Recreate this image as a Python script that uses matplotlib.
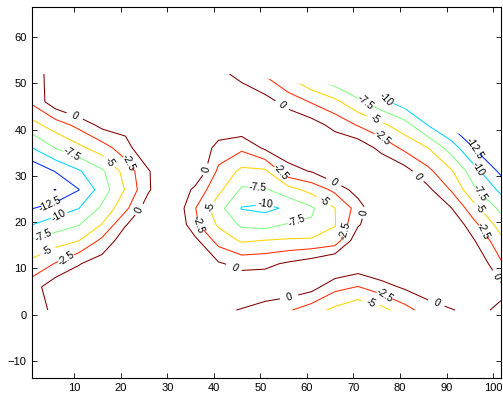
import numpy as np
import matplotlib
matplotlib.use("Agg")
import matplotlib.pyplot as plt
from matplotlib.patches import Polygon

# grid (x columns, y rows)
x_nodes = [1, 6, 11, 16, 21, 26, 31, 36, 41, 46, 51, 56, 61, 66, 71, 76, 81, 86, 91, 96, 101.7]
y_nodes = [1, 6, 11, 16, 19.5, 23, 27, 31, 36, 41, 46, 52]

row_y01 = [-0.4, 0.2, 1.0, 1.2, 1.2, 1.2, 1.2, 1.0, 0.5, -0.15, -1.2, -2.2, -3.9, -5.6, -7.0, -5.9, -3.5, -1.2, -0.1, 0.5, -0.35]
row_y06 = [-1.1, 1.65, 2.0, 2.0, 2.0, 2.0, 2.0, 2.0, 2.0, 2.0, 2.0, 1.8, 1.0, -1.7, -2.6, -1.0, 0.4, 1.5, 1.5, 1.2, 0.5]
row_y11 = [-4.3, -2.33, -0.15, 1.3, 2.0, 2.0, 2.0, 2.0, 0.3, -0.8, -0.6, 0.4, 1.4, 3.0, 1.9, 2.6, 2.5, 2.5, 2.5, 2.4, -2.15]
row_y16 = [-7.2, -6.1, -5.05, -1.9, 1.6, 2.5, 2.5, 0.65, -3.45, -5.3, -4.9, -4.7, -4.6, -4.0, 1.9, 2.5, 2.5, 2.5, 2.0, 0.1, -4.34]
row_y19 = [-10.05, -8.8, -7.66, -4.9, -0.2, 2.3, 3.3, -2.0, -5.37, -8.0, -8.4, -7.3, -7.2, -5.15, -0.3, 2.5, 2.5, 2.5, 2.4, -1.9, -6.16]
row_y23 = [-12.6, -11.3, -10.05, -7.03, -3.15, 1.6, 2.6, -2.4, -6.6, -10.15, -10.6, -9.6, -7.86, -5.05, -1.44, 3.3, 2.5, 2.5, 0.1, -4.2, -8.2]
row_y27 = [-14.6, -15.03, -12.57, -8.8, -4.83, -0.29, 3.0, -0.69, -4.36, -7.85, -7.8, -6.0, -4.13, -1.92, 1.3, 2.5, 2.5, 0.6, -2.71, -7.14, -10.6]
row_y31 = [-14.4, -12.37, -10.29, -7.9, -4.07, -0.2, 3.0, 2.5, -3.04, -5.6, -5.5, -0.8, 0.15, 2.9, 2.5, 2.5, 1.0, -1.87, -4.67, -9.11, -13.1]
row_y36 = [-10.05, -7.45, -5.66, -3.71, -1.07, 2.5, 2.5, 2.5, -1.0, -2.0, 0.4, 1.4, 2.0, 2.0, 1.75, -0.75, -3.08, -4.95, -8.64, -12.6, -14.0]
row_y41 = [-5.83, -3.79, -1.75, 0.8, 1.0, 2.0, 2.0, 2.0, 2.0, 2.0, 2.0, 2.0, 1.1, -0.81, -2.71, -4.44, -6.44, -10.1, -12.8, -14.0, -14.0]
row_y46 = [-2.0, 1.7, 3.5, 2.0, 2.0, 2.0, 2.0, 2.0, 2.0, 2.0, 1.0, -0.94, -2.73, -4.35, -6.92, -9.27, -11.4, -13.0, -14.0, -14.0, -14.0]
row_y52 = [-0.3, 0.3, 1.0, 1.5, 1.5, 1.5, 1.5, 1.5, 0.8, -0.89, -2.78, -5.56, -8.08, -10.05, -11.6, -12.8, -14.0, -14.0, -14.0, -14.0, -14.0]

levels = [-15, -12.5, -10, -7.5, -5, -2.5, 0]
# old matlab jet picked at each level
level_colors = [(0, 0, 0.56), (0, 0.17, 1), (0, 0.83, 1), (0.5, 1, 0.5),
                (1, 0.83, 0), (1, 0.17, 0), (0.5, 0, 0)]

# outline of the area that has data (top right corner is empty)
domain_edge = [(0, 0), (103, 0), (103, 34.5), (92, 39.4), (74.4, 47.8), (64.4, 49.8),
               (58.4, 49.9), (52.7, 50.8), (45, 52.05), (0, 52.6)]

label_spots = {
    0: [(9.6, 42.3), (24.6, 22.5), (39.2, 31.3), (65.6, 28.5), (71.9, 22.1), (44, 9.8),
        (56.2, 3.8), (87.5, 2.2), (54.7, 45.3), (83.2, 29.6), (99.8, 8.1)],
    -2.5: [(21.2, 32.8), (8.7, 11.8), (54, 30.7), (36.5, 19.5), (67.8, 18.2), (76.4, 3.8),
           (76.5, 38.5), (97.4, 18)],
    -5: [(16.9, 32.8), (4.9, 13.2), (40.1, 23.1), (63.1, 24.2), (73.8, 2.7), (75, 42.6), (98, 23.4)],
    -7.5: [(9.1, 34.3), (3.4, 16.9), (49.5, 27.9), (58.5, 19), (72.5, 45.7), (97.4, 26.4)],
    -10: [(7, 21.2), (50.8, 24.6), (77.2, 46.6), (97, 31.5)],
    -12.5: [(4.9, 23.8), (95.3, 35.6)],
}

z = np.array([row_y01, row_y06, row_y11, row_y16, row_y19, row_y23,
              row_y27, row_y31, row_y36, row_y41, row_y46, row_y52])

plt.rcParams['font.family'] = ['Liberation Sans', 'DejaVu Sans']

fig = plt.figure(figsize=(5.03, 3.99), dpi=100)
ax = fig.add_axes([0.0642, 0.0534, 0.9318, 0.9283])

cs = ax.contour(x_nodes, y_nodes, z, levels=levels, colors=level_colors, linewidths=0.75)
clip = Polygon(domain_edge, closed=True, transform=ax.transData, facecolor='none', edgecolor='none')
cs.set_clip_path(clip)

# set up label style once, then put each label on its own level
cs.clabel(inline=True, inline_spacing=2, fmt='%g', fontsize=7.5, colors='k', manual=[])
for lev, spots in label_spots.items():
    cs.labelIndiceList = [levels.index(lev)]
    for px, py in spots:
        cs.add_label_near(px, py, inline=True, inline_spacing=2)

ax.set_xlim(1, 101.7)
ax.set_ylim(-13.6, 66.4)
ax.set_xticks(range(10, 101, 10))
ax.set_yticks(range(-10, 61, 10))
ax.tick_params(direction='in', length=3.5, width=0.6, top=True, right=True, labelsize=8, pad=4)
for sp in ax.spines.values():
    sp.set_linewidth(0.8)

fig.savefig("out.png", dpi=100)
